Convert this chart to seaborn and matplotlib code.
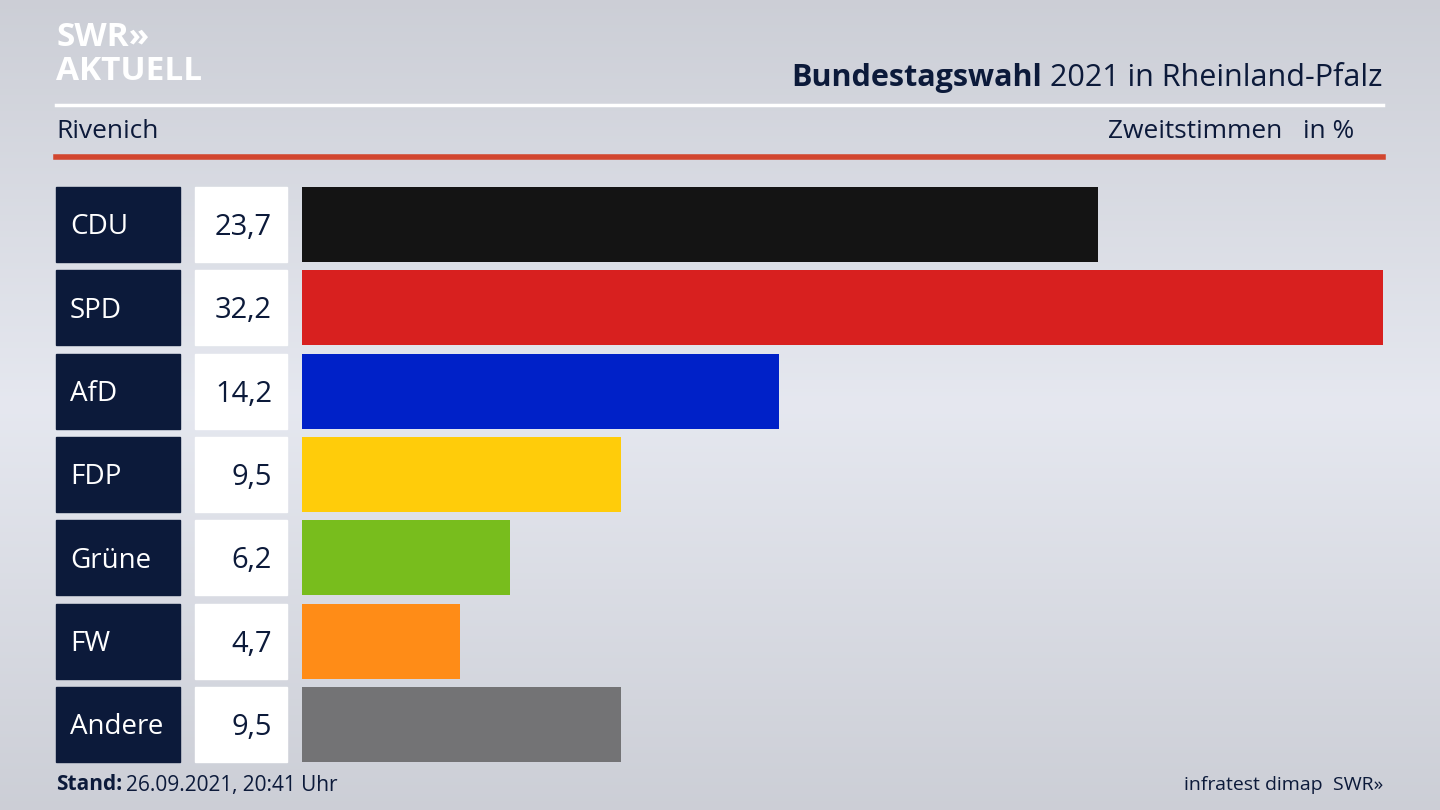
import matplotlib
matplotlib.use("Agg")
import matplotlib.pyplot as plt
import seaborn as sns
import numpy as np
import pandas as pd
from matplotlib.patches import Rectangle
from matplotlib.lines import Line2D

parties = ["CDU", "SPD", "AfD", "FDP", "Grüne", "FW", "Andere"]
values = [23.7, 32.2, 14.2, 9.5, 6.2, 4.7, 9.5]
colors = ["#141414", "#d8201f", "#0021c8", "#ffcc0a", "#78bd1d", "#ff8c17", "#737375"]
labels = ["23,7", "32,2", "14,2", "9,5", "6,2", "4,7", "9,5"]

W, H = 1440, 810
plt.rcParams["font.family"] = "Open Sans"
fig = plt.figure(figsize=(14.4, 8.1), dpi=100)
navy = "#0c1a3a"

bg = fig.add_axes([0, 0, 1, 1], zorder=-10)
g = np.linspace(0, 1, 256)
grad = 1 - np.abs(g - 0.5) * 2
img = np.zeros((256, 1, 3))
for i, c in enumerate([0.80, 0.81, 0.84]):
    img[:, 0, i] = c + 0.10 * grad
bg.imshow(img, aspect="auto", extent=[0, 1, 0, 1])
bg.axis("off")

def fx(px): return px / W
def fy(py): return 1 - py / H

top, bottom = 187, 762
ax = fig.add_axes([fx(302), fy(bottom), fx(1383) - fx(302), (bottom - top) / H])
df = pd.DataFrame({"party": parties, "value": values})
sns.barplot(data=df, x="value", y="party", hue="party", palette=colors,
            legend=False, ax=ax, width=0.9, saturation=1, orient="h")
ax.set_xlim(0, 32.2)
ax.set_ylim(6.45, -0.45)
ax.axis("off")

step = (bottom - top) / 6.9
for i, (p, l) in enumerate(zip(parties, labels)):
    y0 = top + i * step
    h = step * 0.9
    fig.patches.append(Rectangle((fx(56), fy(y0 + h)), fx(180) - fx(56), h / H,
                                 transform=fig.transFigure, color=navy))
    fig.patches.append(Rectangle((fx(195), fy(y0 + h)), fx(287) - fx(195), h / H,
                                 transform=fig.transFigure, color="white"))
    fig.text(fx(70), fy(y0 + h / 2 + 3), p, color="white", fontsize=20, va="center")
    fig.text(fx(272), fy(y0 + h / 2 + 3), l, color=navy, fontsize=21, va="center", ha="right")

fig.text(fx(56), fy(38), "SWR»", color="white", fontsize=24, fontweight="bold", va="center")
fig.text(fx(56), fy(72), "AKTUELL", color="white", fontsize=24, fontweight="bold", va="center")
t1 = fig.text(fx(1383), fy(78), "2021 in Rheinland-Pfalz", color=navy, fontsize=22,
              ha="right", va="center")
fig.canvas.draw()
bb = t1.get_window_extent()
fig.text(bb.x0 / W - fx(8), fy(78), "Bundestagswahl", color=navy, fontsize=22,
         fontweight="bold", ha="right", va="center")
fig.lines.append(Line2D([fx(56), fx(1383)], [fy(105), fy(105)], color="white", lw=2.5,
                        transform=fig.transFigure))
fig.text(fx(56), fy(132), "Rivenich", color=navy, fontsize=19, va="center")
fig.text(fx(1354), fy(132), "Zweitstimmen   in %", color=navy, fontsize=19, va="center", ha="right")
fig.lines.append(Line2D([fx(56), fx(1383)], [fy(157), fy(157)], color="#d2462f", lw=4,
                        transform=fig.transFigure))

fig.text(fx(56), fy(785), "Stand:", color=navy, fontsize=15, fontweight="bold", va="center")
fig.text(fx(126), fy(785), "26.09.2021, 20:41 Uhr", color=navy, fontsize=15, va="center")
fig.text(fx(1383), fy(785), "infratest dimap  SWR»", color=navy, fontsize=14, va="center", ha="right")

fig.savefig("out.png", dpi=100)
